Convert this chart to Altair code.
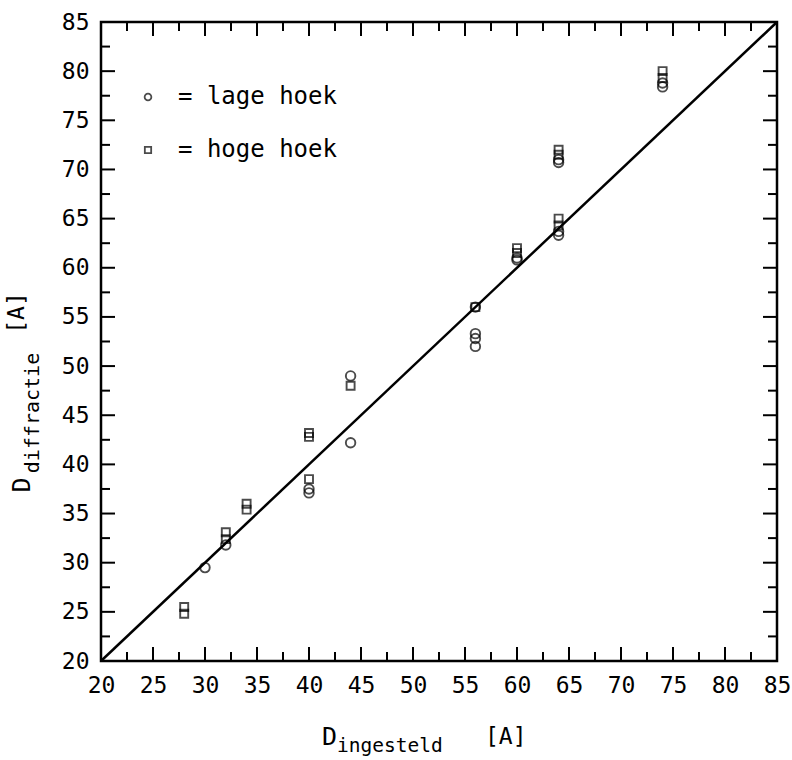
import altair as alt
import pandas as pd

# Data
lage_x = [30, 32, 40, 40, 44, 44, 56, 56, 56, 56, 60, 60, 64, 64, 64, 64, 74, 74]
lage_y = [29.5, 31.8, 37.5, 37.1, 42.2, 49.0, 56.0, 53.3, 52.8, 52.0, 61.0, 60.8,
          71.0, 70.7, 63.7, 63.3, 78.8, 78.4]
hoge_x = [28, 28, 32, 32, 34, 34, 40, 40, 40, 44, 56, 60, 60, 64, 64, 64, 64, 74, 74]
hoge_y = [25.5, 24.8, 32.4, 33.1, 35.4, 36.0, 43.2, 42.8, 38.5, 48.0, 56.0, 62.0, 61.5,
          72.0, 71.5, 65.0, 64.3, 80.0, 79.3]
diag = [20, 85]
major_ticks = [20, 25, 30, 35, 40, 45, 50, 55, 60, 65, 70, 75, 80, 85]
minor_ticks = [22.5, 27.5, 32.5, 37.5, 42.5, 47.5, 52.5, 57.5, 62.5, 67.5, 72.5, 77.5, 82.5]

W, H = 676, 639
FONT = "DejaVu Sans Mono"
MAJ, MIN = 14, 9

xs = alt.Scale(domain=[20, 85], nice=False, zero=False)
ys = alt.Scale(domain=[20, 85], nice=False, zero=False)

lage = pd.DataFrame({"x": lage_x, "y": lage_y})
hoge = pd.DataFrame({"x": hoge_x, "y": hoge_y})
dline = pd.DataFrame({"x": diag, "y": diag})
maj = pd.DataFrame({"v": major_ticks})
mnr = pd.DataFrame({"v": minor_ticks})

base_axis_x = alt.Axis(values=major_ticks, ticks=False, domain=False, grid=False,
                       labelFont=FONT, labelFontSize=23, labelColor="black",
                       labelPadding=13, title=None, labelFlush=False)
base_axis_y = alt.Axis(values=major_ticks, ticks=False, domain=False, grid=False,
                       labelFont=FONT, labelFontSize=23, labelColor="black",
                       labelPadding=12, title=None, labelFlush=False)

line = alt.Chart(dline).mark_line(color="black", strokeWidth=2.5).encode(
    x=alt.X("x:Q", scale=xs, axis=base_axis_x),
    y=alt.Y("y:Q", scale=ys, axis=base_axis_y),
)

pts_lage = alt.Chart(lage).mark_point(shape="circle", size=90, color="black",
                                      strokeWidth=1.9, filled=False).encode(
    x=alt.X("x:Q", scale=xs), y=alt.Y("y:Q", scale=ys))
pts_hoge = alt.Chart(hoge).mark_point(shape="square", size=64, color="black",
                                      strokeWidth=1.9, filled=False).encode(
    x=alt.X("x:Q", scale=xs), y=alt.Y("y:Q", scale=ys))

def xticks(df, length):
    b = alt.Chart(df).mark_rule(color="black", strokeWidth=2)
    bottom = b.encode(x=alt.X("v:Q", scale=xs), y=alt.value(H), y2=alt.value(H - length))
    top = b.encode(x=alt.X("v:Q", scale=xs), y=alt.value(0), y2=alt.value(length))
    return bottom + top

def yticks(df, length):
    b = alt.Chart(df).mark_rule(color="black", strokeWidth=2)
    left = b.encode(y=alt.Y("v:Q", scale=ys), x=alt.value(0), x2=alt.value(length))
    right = b.encode(y=alt.Y("v:Q", scale=ys), x=alt.value(W), x2=alt.value(W - length))
    return left + right

ticks = xticks(maj, MAJ) + xticks(mnr, MIN) + yticks(maj, MAJ) + yticks(mnr, MIN)

txt = pd.DataFrame({"t": ["x"]})

def label(text, x, y, size, angle=0, align="left", baseline="alphabetic"):
    kw = dict(font=FONT, fontSize=size, color="black", align=align, baseline=baseline)
    if angle:
        kw["angle"] = angle
    return alt.Chart(txt).mark_text(text=text, **kw).encode(x=alt.value(x), y=alt.value(y))

titles = (
    label("D", 221, 723, 25)
    + label("ingesteld", 236, 730, 19.5)
    + label("[A]", 384, 722, 23)
    + label("D", -79, 463, 25, angle=270, align="center", baseline="middle")
    + label("diffractie", -68, 391, 20, angle=270, align="center", baseline="middle")
    + label("[A]", -84, 291, 23, angle=270, align="center", baseline="middle")
    + label("= lage hoek", 77, 75, 24, baseline="middle")
    + label("= hoge hoek", 77, 128, 24, baseline="middle")
)

leg_c = alt.Chart(txt).mark_point(shape="circle", size=45, color="black", strokeWidth=1.8,
                                  filled=False).encode(x=alt.value(47), y=alt.value(75))
leg_s = alt.Chart(txt).mark_point(shape="square", size=40, color="black", strokeWidth=1.8,
                                  filled=False).encode(x=alt.value(47), y=alt.value(128))

chart = alt.layer(line, pts_lage, pts_hoge, ticks, titles, leg_c, leg_s).properties(
    width=W, height=H,
    autosize=alt.AutoSizeParams(type="none"),
    padding={"left": 101, "top": 22, "right": 15, "bottom": 99},
    background="white",
).configure_view(stroke="black", strokeWidth=2.5)

chart.save("out.html", embed_options={"renderer": "svg", "actions": False})
